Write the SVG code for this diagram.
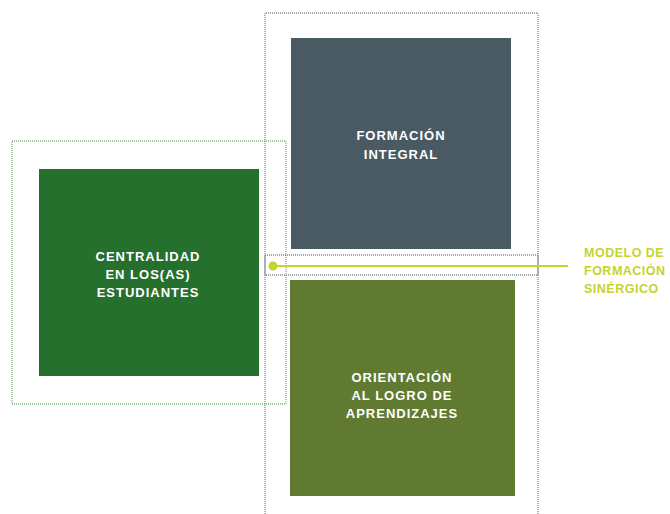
<svg xmlns="http://www.w3.org/2000/svg" width="670" height="514" viewBox="0 0 670 514">
<style>
.lbl{font-family:"Liberation Sans",Arial,sans-serif;font-weight:bold;font-size:13px;letter-spacing:1px;fill:#ffffff;text-anchor:middle}
.side{font-family:"Liberation Sans",Arial,sans-serif;font-weight:bold;font-size:12.5px;letter-spacing:0.5px;fill:#c5d32f}
.dg{fill:none;stroke:#7d898e;stroke-width:1.3;stroke-dasharray:1 1}
.dgr{fill:none;stroke:#7fb27f;stroke-width:1.3;stroke-dasharray:1 1}
</style>
<rect width="670" height="514" fill="#ffffff"/>
<g id="frames">
<path class="dg" d="M265,514 V13 H538 V514"/>
<rect class="dgr" x="12" y="141" width="274" height="263"/>
</g>
<g id="node-centralidad">
<rect x="39" y="169" width="220" height="207" fill="#26702e"/>
<text class="lbl" x="148" y="261">CENTRALIDAD</text>
<text class="lbl" x="148" y="279">EN LOS(AS)</text>
<text class="lbl" x="148" y="297">ESTUDIANTES</text>
</g>
<g id="node-formacion">
<rect x="291" y="38" width="220" height="211" fill="#4a5a63"/>
<text class="lbl" x="401" y="140">FORMACIÓN</text>
<text class="lbl" x="401" y="159">INTEGRAL</text>
</g>
<g id="node-orientacion">
<rect x="290" y="280" width="225" height="216" fill="#607a31"/>
<text class="lbl" x="402" y="382">ORIENTACIÓN</text>
<text class="lbl" x="402" y="400">AL LOGRO DE</text>
<text class="lbl" x="402" y="418">APRENDIZAJES</text>
</g>
<g id="connectors">
<rect class="dg" x="265" y="255" width="273" height="20"/>
<line x1="273" y1="266" x2="568" y2="266" stroke="#c5d32f" stroke-width="2"/>
<circle cx="273" cy="266" r="4.5" fill="#c5d32f"/>
</g>
<g id="node-modelo">
<text class="side" x="584" y="257">MODELO DE</text>
<text class="side" x="584" y="275">FORMACIÓN</text>
<text class="side" x="584" y="293">SINÉRGICO</text>
</g>
</svg>
